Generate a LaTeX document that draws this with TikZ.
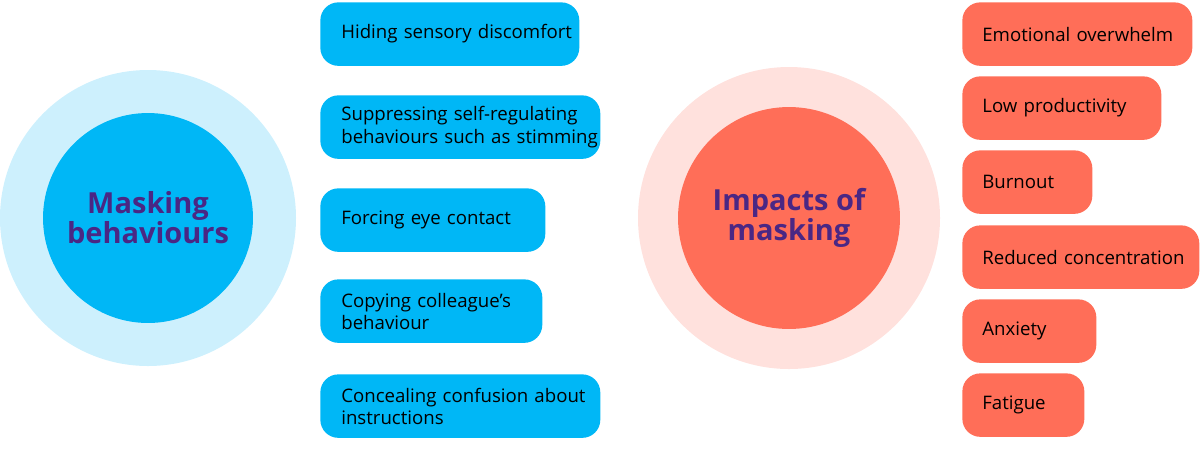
\documentclass[tikz,border=0pt]{standalone}
\usepackage{fontspec}
\setmainfont{Open Sans}
\definecolor{mblue}{HTML}{00B7F6}
\definecolor{lblue}{HTML}{CDF0FD}
\definecolor{mred}{HTML}{FF6E58}
\definecolor{lred}{HTML}{FFE1DD}
\definecolor{purp}{HTML}{4A2784}
\begin{document}
\begin{tikzpicture}[x=0.02cm,y=-0.02cm,
 box/.style={anchor=north west,rounded corners=0.36cm,inner sep=0pt,minimum height=1.27cm,text width=#1,align=left,font=\fontsize{10.6}{12.6}\selectfont},
 bb/.style={box=#1,fill=mblue},
 rb/.style={box=#1,fill=mred},
 title/.style={font=\fontsize{16.5}{17}\selectfont\bfseries,text=purp,align=center}]
\useasboundingbox (0,0) rectangle (1200,458);
\fill[lblue] (148,218) circle (148);
\node[circle,fill=mblue,minimum size=4.2cm,title] (mb) at (148,218) {Masking\\behaviours};
\fill[lred] (789,218) circle (151);
\node[circle,fill=mred,minimum size=4.44cm,title] (im) at (789,218) {Impacts of\\masking};
\node[bb=5.18cm] (b1) at (320,2) {\hspace*{0.42cm}Hiding sensory discomfort};
\node[bb=5.6cm] (b2) at (320,95) {\hspace*{0.42cm}Suppressing self-regulating\\\hspace*{0.42cm}behaviours such as stimming};
\node[bb=4.5cm] (b3) at (320,188) {\hspace*{0.42cm}Forcing eye contact};
\node[bb=4.44cm] (b4) at (320,279) {\hspace*{0.42cm}Copying colleague’s\\\hspace*{0.42cm}behaviour};
\node[bb=5.6cm] (b5) at (320,374) {\hspace*{0.42cm}Concealing confusion about\\\hspace*{0.42cm}instructions};
\node[rb=4.6cm] (r1) at (962,2) {\hspace*{0.4cm}Emotional overwhelm};
\node[rb=3.98cm] (r2) at (962,76) {\hspace*{0.4cm}Low productivity};
\node[rb=2.6cm] (r3) at (962,150) {\hspace*{0.4cm}Burnout};
\node[rb=4.74cm] (r4) at (962,225) {\hspace*{0.4cm}Reduced concentration};
\node[rb=2.68cm] (r5) at (962,299) {\hspace*{0.4cm}Anxiety};
\node[rb=2.44cm] (r6) at (962,373) {\hspace*{0.4cm}Fatigue};
\end{tikzpicture}
\end{document}
